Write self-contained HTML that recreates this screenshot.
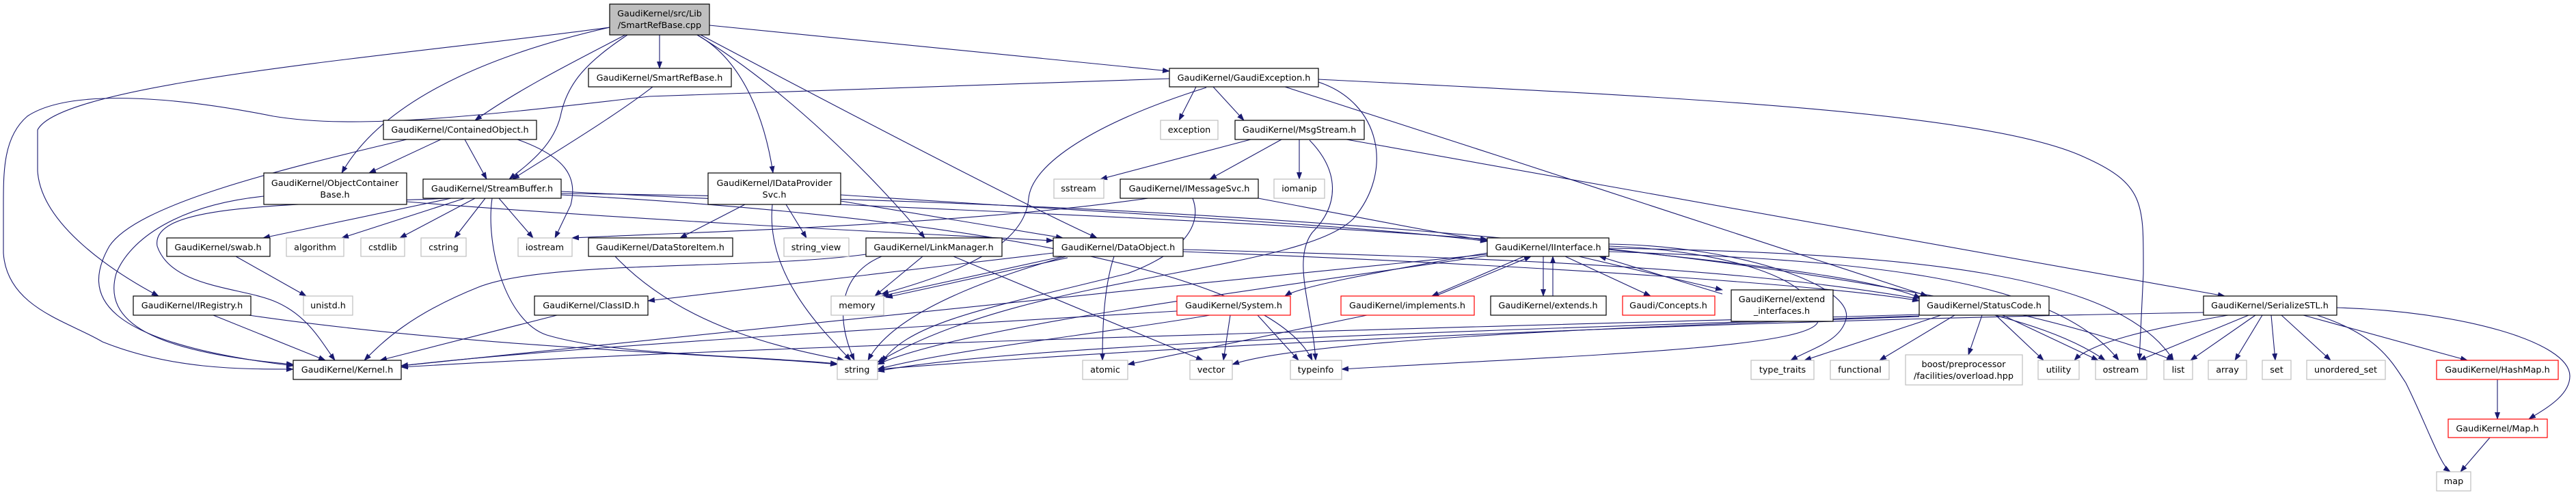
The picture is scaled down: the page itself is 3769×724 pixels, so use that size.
<!DOCTYPE html>
<html><head><meta charset="utf-8"><style>
html,body{margin:0;padding:0;background:#fff;}
svg{display:block;}
text{font-family:"DejaVu Sans","Liberation Sans",sans-serif;font-size:12.8px;fill:#000;text-anchor:middle;}
.e{fill:none;stroke:#191970;stroke-width:1.1;marker-end:url(#a);}
.b{fill:#fff;stroke:#000;stroke-width:1.2;}
.g{fill:#fff;stroke:#bfbfbf;stroke-width:1.2;}
.r{fill:#fff;stroke:#ff0000;stroke-width:1.2;}
</style></head><body>
<svg width="3769" height="724" viewBox="0 0 3769 724" xmlns="http://www.w3.org/2000/svg">
<defs><marker id="a" markerWidth="11" markerHeight="8" refX="10" refY="4" orient="auto" markerUnits="userSpaceOnUse"><path d="M0,0 L11,4 L0,8 z" fill="#191970"/></marker></defs>
<g>
<path class="e" d="M965 51 L965 100"/>
<path class="e" d="M1038 37 L1711 104"/>
<path class="e" d="M1020 51 C1090 90 1120 180 1131 253"/>
<path class="e" d="M1020 51 C1150 130 1280 260 1353 348"/>
<path class="e" d="M1025 51 C1250 170 1500 300 1605 348"/>
<path class="e" d="M915 51 C840 90 760 130 695 176"/>
<path class="e" d="M918 51 C860 90 830 120 820 170 C810 210 780 235 745 262"/>
<path class="e" d="M892 40 C760 70 570 130 500 253"/>
<path class="e" d="M892 40 C600 80 90 120 55 190 L55 250 C60 330 170 400 232 433"/>
<path class="e" d="M955 127 C900 170 800 230 750 262"/>
<path class="e" d="M1750 127 L1725 176"/>
<path class="e" d="M1775 127 L1820 176"/>
<path class="e" d="M1711 115 L950 141 C700 170 520 190 400 170 C250 140 100 130 40 170 C5 200 5 250 5 300 L5 370 C10 450 100 470 150 500 C250 540 350 540 429 540"/>
<path class="e" d="M1765 128 C1600 180 1510 240 1505 290 C1500 360 1400 400 1290 430"/>
<path class="e" d="M1929 120 C2020 150 2040 250 1980 320 C1900 400 1500 400 1284 530"/>
<path class="e" d="M1880 127 C2200 230 2600 360 2820 433"/>
<path class="e" d="M1929 116 C2400 140 2900 160 3050 230 C3140 270 3136 300 3136 400 L3130 527"/>
<path class="e" d="M1830 204 L1610 262"/>
<path class="e" d="M1875 204 L1770 262"/>
<path class="e" d="M1901 204 L1901 262"/>
<path class="e" d="M1970 204 L3255 433"/>
<path class="e" d="M1916 205 C1960 250 1960 300 1920 340 C1890 380 1920 450 1925 527"/>
<path class="e" d="M1841 290 C2000 320 2100 340 2176 352"/>
<path class="e" d="M1680 290 C1400 330 1000 340 837 348"/>
<path class="e" d="M1745 290 C1760 330 1730 370 1650 400 C1450 450 1330 470 1290 530"/>
<path class="e" d="M1090 299 L995 348"/>
<path class="e" d="M1150 299 L1180 348"/>
<path class="e" d="M1130 299 C1120 400 1200 480 1245 527"/>
<path class="e" d="M1230 294 L1555 348"/>
<path class="e" d="M1230 285 C1600 310 2000 330 2176 353"/>
<path class="e" d="M660 290 L385 348"/>
<path class="e" d="M680 290 L500 348"/>
<path class="e" d="M695 290 L585 348"/>
<path class="e" d="M710 290 L665 348"/>
<path class="e" d="M730 290 L780 348"/>
<path class="e" d="M720 290 C710 360 740 470 800 490 C900 520 1100 520 1225 532"/>
<path class="e" d="M660 290 C400 300 220 300 230 360 C250 420 350 420 400 440 C450 460 470 500 490 527"/>
<path class="e" d="M821 280 C1200 300 1800 320 2176 350"/>
<path class="e" d="M821 285 C1300 310 1850 380 1920 527"/>
<path class="e" d="M821 283 C1500 290 2700 340 3180 527"/>
<path class="e" d="M595 295 C900 320 1300 340 1541 352"/>
<path class="e" d="M645 204 L540 253"/>
<path class="e" d="M680 204 L712 262"/>
<path class="e" d="M757 204 C830 230 845 260 835 300 L812 348"/>
<path class="e" d="M595 204 C400 250 200 300 160 360 C120 430 140 500 429 535"/>
<path class="e" d="M386 287 C260 300 190 350 170 400 C150 470 220 515 429 533"/>
<path class="e" d="M345 375 L448 433"/>
<path class="e" d="M312 461 L476 527"/>
<path class="e" d="M364 461 C700 510 1100 520 1225 533"/>
<path class="e" d="M815 461 L556 527"/>
<path class="e" d="M900 375 C1000 480 1150 510 1235 527"/>
<path class="e" d="M1290 375 C1230 400 1220 460 1250 527"/>
<path class="e" d="M1350 375 L1280 433"/>
<path class="e" d="M1395 375 L1760 527"/>
<path class="e" d="M1267 372 C1100 395 800 380 700 420 C600 460 560 500 533 527"/>
<path class="e" d="M1541 370 L948 440"/>
<path class="e" d="M1555 375 L1290 433"/>
<path class="e" d="M1562 377 L1296 435"/>
<path class="e" d="M1560 375 C1400 420 1300 470 1270 527"/>
<path class="e" d="M1630 375 C1615 420 1613 480 1613 527"/>
<path class="e" d="M1731 365 C2300 380 2900 400 3080 527"/>
<path class="e" d="M1731 368 C2300 390 2700 420 2808 440"/>
<path class="e" d="M2176 372 C1600 430 900 500 587 535"/>
<path class="e" d="M2176 370 C2000 400 1900 420 1880 433"/>
<path class="e" d="M2230 375 L2095 433"/>
<path class="e" d="M2100 433 L2240 375"/>
<path class="e" d="M2258 375 L2258 433"/>
<path class="e" d="M2272 433 L2272 375"/>
<path class="e" d="M2290 375 L2415 433"/>
<path class="e" d="M2310 375 L2520 424"/>
<path class="e" d="M2520 430 L2340 375"/>
<path class="e" d="M2354 365 C2600 390 2750 410 2810 436"/>
<path class="e" d="M2354 360 C2500 365 2660 400 2660 470 C2650 510 2300 520 1963 540"/>
<path class="e" d="M2354 357 C2550 360 2720 420 2700 470 C2690 500 2650 510 2620 527"/>
<path class="e" d="M2354 368 C2700 380 3000 400 3100 527"/>
<path class="e" d="M2354 363 C2800 370 3100 400 3180 527"/>
<path class="e" d="M2176 374 C1800 430 1400 480 1284 533"/>
<path class="e" d="M1770 461 C1600 490 1400 510 1284 540"/>
<path class="e" d="M1800 461 L1790 527"/>
<path class="e" d="M1840 461 L1900 527"/>
<path class="e" d="M1722 455 C1300 480 800 510 587 535"/>
<path class="e" d="M2000 461 L1650 533"/>
<path class="e" d="M2808 460 C2300 475 1200 500 587 537"/>
<path class="e" d="M2808 462 C2300 480 1500 500 1284 543"/>
<path class="e" d="M2900 461 L2880 519"/>
<path class="e" d="M2920 461 L2990 527"/>
<path class="e" d="M2930 461 L3070 527"/>
<path class="e" d="M2860 461 L2750 527"/>
<path class="e" d="M2840 461 L2640 527"/>
<path class="e" d="M2808 463 C2300 480 1900 500 1803 533"/>
<path class="e" d="M3260 461 C3150 480 3060 500 3035 527"/>
<path class="e" d="M3290 461 L3130 527"/>
<path class="e" d="M3300 461 L3205 527"/>
<path class="e" d="M3310 461 L3270 527"/>
<path class="e" d="M3323 461 L3329 527"/>
<path class="e" d="M3338 461 L3410 527"/>
<path class="e" d="M3370 461 L3610 527"/>
<path class="e" d="M3390 461 C3480 490 3500 530 3520 560 C3550 620 3570 680 3585 690"/>
<path class="e" d="M3419 450 C3600 455 3760 500 3760 550 C3760 580 3720 600 3700 613"/>
<path class="e" d="M3224 457 C2500 470 1800 500 1284 540"/>
<path class="e" d="M3654 555 L3654 613"/>
<path class="e" d="M3643 640 L3600 690"/>
</g>
<g>
<rect x="892" y="6" width="146" height="45" fill="#bfbfbf" stroke="#000" stroke-width="1.2"/><text x="965" y="24">GaudiKernel/src/Lib</text><text x="965" y="41">/SmartRefBase.cpp</text>
<rect class="b" x="861" y="100" width="209" height="27"/><text x="965" y="118">GaudiKernel/SmartRefBase.h</text>
<rect class="b" x="1711" y="100" width="218" height="27"/><text x="1820" y="118">GaudiKernel/GaudiException.h</text>
<rect class="b" x="561" y="176" width="224" height="28"/><text x="673" y="194">GaudiKernel/ContainedObject.h</text>
<rect class="g" x="1698" y="176" width="84" height="28"/><text x="1740" y="194">exception</text>
<rect class="b" x="1807" y="176" width="189" height="28"/><text x="1901" y="194">GaudiKernel/MsgStream.h</text>
<rect class="b" x="386" y="253" width="209" height="46"/><text x="490" y="272">GaudiKernel/ObjectContainer</text><text x="490" y="289">Base.h</text>
<rect class="b" x="619" y="262" width="202" height="28"/><text x="720" y="280">GaudiKernel/StreamBuffer.h</text>
<rect class="b" x="1036" y="253" width="194" height="46"/><text x="1133" y="272">GaudiKernel/IDataProvider</text><text x="1133" y="289">Svc.h</text>
<rect class="g" x="1542" y="262" width="73" height="28"/><text x="1578" y="280">sstream</text>
<rect class="b" x="1639" y="262" width="202" height="28"/><text x="1740" y="280">GaudiKernel/IMessageSvc.h</text>
<rect class="g" x="1864" y="262" width="74" height="28"/><text x="1901" y="280">iomanip</text>
<rect class="b" x="244" y="348" width="151" height="27"/><text x="319" y="366">GaudiKernel/swab.h</text>
<rect class="g" x="419" y="348" width="84" height="27"/><text x="461" y="366">algorithm</text>
<rect class="g" x="528" y="348" width="64" height="27"/><text x="560" y="366">cstdlib</text>
<rect class="g" x="616" y="348" width="66" height="27"/><text x="649" y="366">cstring</text>
<rect class="g" x="758" y="348" width="79" height="27"/><text x="797" y="366">iostream</text>
<rect class="b" x="861" y="348" width="211" height="27"/><text x="966" y="366">GaudiKernel/DataStoreItem.h</text>
<rect class="g" x="1147" y="348" width="95" height="27"/><text x="1194" y="366">string_view</text>
<rect class="b" x="1267" y="348" width="199" height="27"/><text x="1366" y="366">GaudiKernel/LinkManager.h</text>
<rect class="b" x="1541" y="348" width="190" height="27"/><text x="1636" y="366">GaudiKernel/DataObject.h</text>
<rect class="b" x="2176" y="348" width="178" height="27"/><text x="2265" y="366">GaudiKernel/IInterface.h</text>
<rect class="g" x="444" y="433" width="72" height="28"/><text x="480" y="451">unistd.h</text>
<rect class="b" x="195" y="433" width="172" height="28"/><text x="281" y="451">GaudiKernel/IRegistry.h</text>
<rect class="b" x="782" y="433" width="166" height="28"/><text x="865" y="451">GaudiKernel/ClassID.h</text>
<rect class="g" x="1216" y="433" width="77" height="28"/><text x="1254" y="451">memory</text>
<rect class="r" x="1722" y="433" width="166" height="28"/><text x="1805" y="451">GaudiKernel/System.h</text>
<rect class="r" x="1962" y="433" width="195" height="28"/><text x="2059" y="451">GaudiKernel/implements.h</text>
<rect class="b" x="2181" y="433" width="169" height="28"/><text x="2265" y="451">GaudiKernel/extends.h</text>
<rect class="r" x="2374" y="433" width="135" height="28"/><text x="2441" y="451">Gaudi/Concepts.h</text>
<rect class="b" x="2533" y="424" width="149" height="46"/><text x="2607" y="442">GaudiKernel/extend</text><text x="2607" y="459">_interfaces.h</text>
<rect class="b" x="2808" y="433" width="190" height="28"/><text x="2903" y="451">GaudiKernel/StatusCode.h</text>
<rect class="b" x="3224" y="433" width="195" height="28"/><text x="3321" y="451">GaudiKernel/SerializeSTL.h</text>
<rect class="b" x="429" y="527" width="158" height="28"/><text x="508" y="545">GaudiKernel/Kernel.h</text>
<rect class="g" x="1225" y="527" width="59" height="28"/><text x="1254" y="545">string</text>
<rect class="g" x="1584" y="527" width="66" height="28"/><text x="1617" y="545">atomic</text>
<rect class="g" x="1741" y="527" width="62" height="28"/><text x="1772" y="545">vector</text>
<rect class="g" x="1888" y="527" width="75" height="28"/><text x="1925" y="545">typeinfo</text>
<rect class="g" x="2562" y="527" width="92" height="28"/><text x="2608" y="545">type_traits</text>
<rect class="g" x="2678" y="527" width="86" height="28"/><text x="2721" y="545">functional</text>
<rect class="g" x="2788" y="519" width="171" height="44"/><text x="2873" y="537">boost/preprocessor</text><text x="2873" y="554">/facilities/overload.hpp</text>
<rect class="g" x="2982" y="527" width="60" height="28"/><text x="3012" y="545">utility</text>
<rect class="g" x="3066" y="527" width="75" height="28"/><text x="3103" y="545">ostream</text>
<rect class="g" x="3166" y="527" width="42" height="28"/><text x="3187" y="545">list</text>
<rect class="g" x="3231" y="527" width="56" height="28"/><text x="3259" y="545">array</text>
<rect class="g" x="3310" y="527" width="42" height="28"/><text x="3331" y="545">set</text>
<rect class="g" x="3375" y="527" width="115" height="28"/><text x="3432" y="545">unordered_set</text>
<rect class="r" x="3565" y="527" width="178" height="28"/><text x="3654" y="545">GaudiKernel/HashMap.h</text>
<rect class="r" x="3582" y="613" width="145" height="27"/><text x="3654" y="631">GaudiKernel/Map.h</text>
<rect class="g" x="3565" y="690" width="50" height="28"/><text x="3590" y="708">map</text>
</g>
</svg>
</body></html>
